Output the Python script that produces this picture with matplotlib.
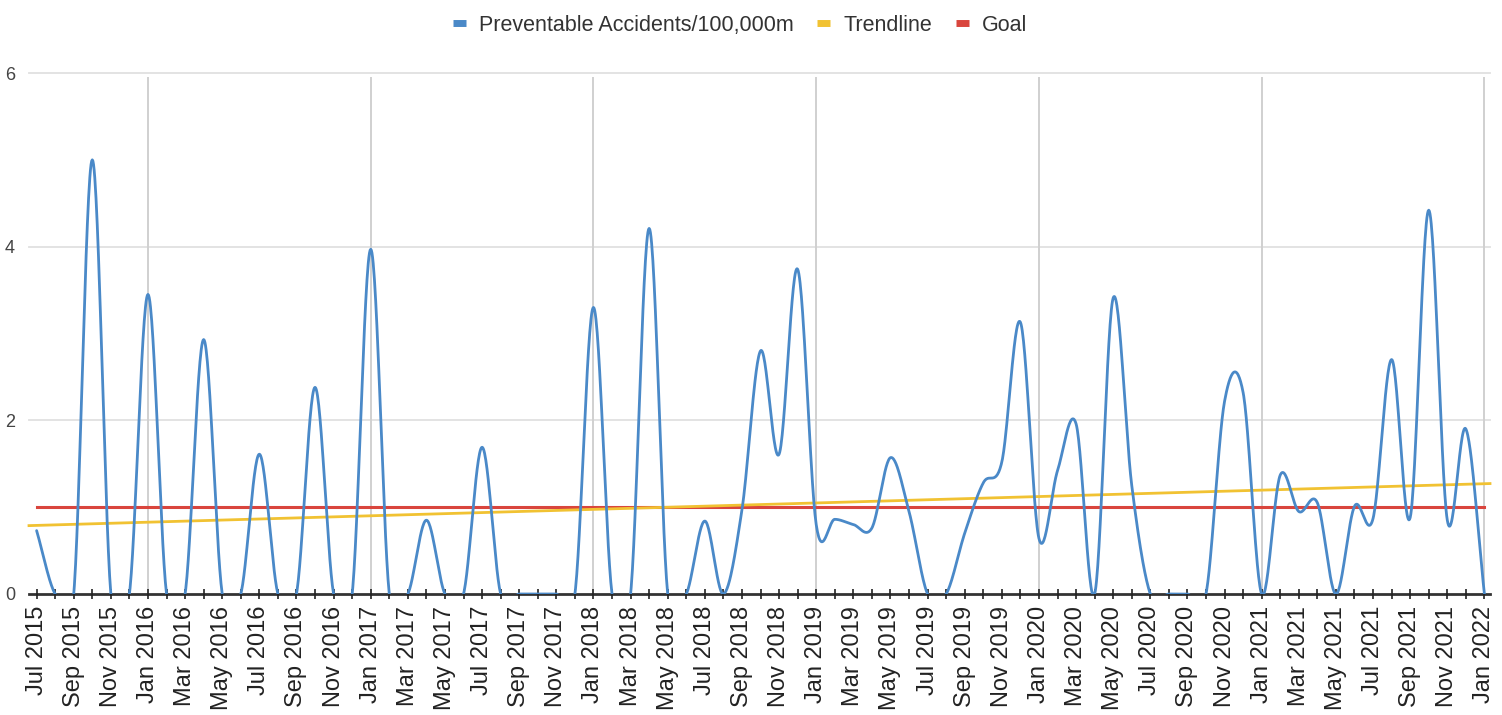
import numpy as np
import pandas as pd
import matplotlib
matplotlib.use("Agg")
from matplotlib import pyplot as plt
from matplotlib.lines import Line2D

plt.rcParams['font.family'] = ['Liberation Sans', 'DejaVu Sans']

# monthly data, Jul 2015 .. Jan 2022
months = pd.date_range('2015-07-01', '2022-01-01', freq='MS')
accidents = [0.73, 0, 0, 5.0, 0, 0, 3.45, 0, 0, 2.93, 0, 0,
             1.61, 0, 0, 2.38, 0, 0, 3.97, 0, 0, 0.85, 0, 0,
             1.69, 0, 0, 0, 0, 0, 3.30, 0, 0, 4.21, 0, 0,
             0.84, 0, 0.97, 2.80, 1.61, 3.74, 0.8, 0.86, 0.8, 0.76, 1.57, 0.95,
             0, 0, 0.7, 1.28, 1.52, 3.13, 0.64, 1.42, 1.96, 0, 3.41, 1.25,
             0, 0, 0, 0, 2.22, 2.32, 0, 1.37, 0.95, 1.05, 0, 1.01,
             0.87, 2.70, 0.88, 4.42, 0.85, 1.9, 0]
goal = [1.0] * len(months)
# trendline values read at first and last month
trend_months = [0, len(months) - 1]
trend_vals = [0.79, 1.27]

labels = [d.strftime('%b %Y') for d in months]

blue = '#4a89c8'
yellow = '#f1c232'
red = '#d9453d'


def catmull_rom(y, steps=30):
    y = np.asarray(y, dtype=float)
    m = np.zeros_like(y)
    m[1:-1] = (y[2:] - y[:-2]) / 2
    m[0] = y[1] - y[0]
    m[-1] = y[-1] - y[-2]
    xs, ys = [], []
    t = np.linspace(0, 1, steps, endpoint=False)
    h00 = 2 * t**3 - 3 * t**2 + 1
    h10 = t**3 - 2 * t**2 + t
    h01 = -2 * t**3 + 3 * t**2
    h11 = t**3 - t**2
    for i in range(len(y) - 1):
        xs.append(i + t)
        ys.append(h00 * y[i] + h10 * m[i] + h01 * y[i + 1] + h11 * m[i + 1])
    xs.append([len(y) - 1])
    ys.append([y[-1]])
    return np.concatenate(xs), np.concatenate(ys)


x = np.arange(len(months))
sx, sy = catmull_rom(accidents)

fig = plt.figure(figsize=(15.02, 7.15), dpi=100)
ax = fig.add_axes([29 / 1502, 1 - 594 / 715, (1490 - 29) / 1502, (594 - 73) / 715])

xmin, xmax = -0.41, 78.3
ax.set_xlim(xmin, xmax)
ax.set_ylim(0, 6)

# gridlines
for yv in [2, 4, 6]:
    ax.axhline(yv, color='#e0e0e0', lw=1.3, zorder=0, clip_on=False)
jan_idx = [i for i, d in enumerate(months) if d.month == 1]
ax.vlines(jan_idx, 0, 5.95, color='#d0d0d0', lw=1.4, zorder=0)

# baseline
ax.axhline(0, color='#333333', lw=2, zorder=1, clip_on=False)

ax.plot(sx, sy, color=blue, lw=2.0, zorder=4, solid_capstyle='round')

coef = np.polyfit(trend_months, trend_vals, 1)
tx = np.array([xmin, xmax])
ax.plot(tx, np.polyval(coef, tx), color=yellow, lw=2.0, zorder=3, clip_on=False)
ax.plot(x, goal, color=red, lw=2.2, zorder=2)

for s in ax.spines.values():
    s.set_visible(False)

ax.set_yticks([0, 2, 4, 6])
ax.set_yticklabels(['0', '2', '4', '6'])
ax.tick_params(axis='y', length=0, pad=10, labelsize=13, labelcolor='#444444')

ax.set_xticks(x)
ax.set_xticklabels([lab if i % 2 == 0 else '' for i, lab in enumerate(labels)],
                   rotation=90, va='top', ha='center')
ax.tick_params(axis='x', direction='inout', length=7, width=1.2, color='#222222',
               pad=5, labelsize=17, labelcolor='#222222')

handles = [Line2D([], [], color=c, lw=5, solid_capstyle='butt') for c in (blue, yellow, red)]
fig.legend(handles, ['Preventable Accidents/100,000m', 'Trendline', 'Goal'],
           loc='center', bbox_to_anchor=(0.4927, 0.965), ncol=3, frameon=False,
           fontsize=15.5, handlelength=0.6, handletextpad=0.6, columnspacing=1.1,
           labelcolor='#333333')

fig.savefig('out.png', dpi=100)
